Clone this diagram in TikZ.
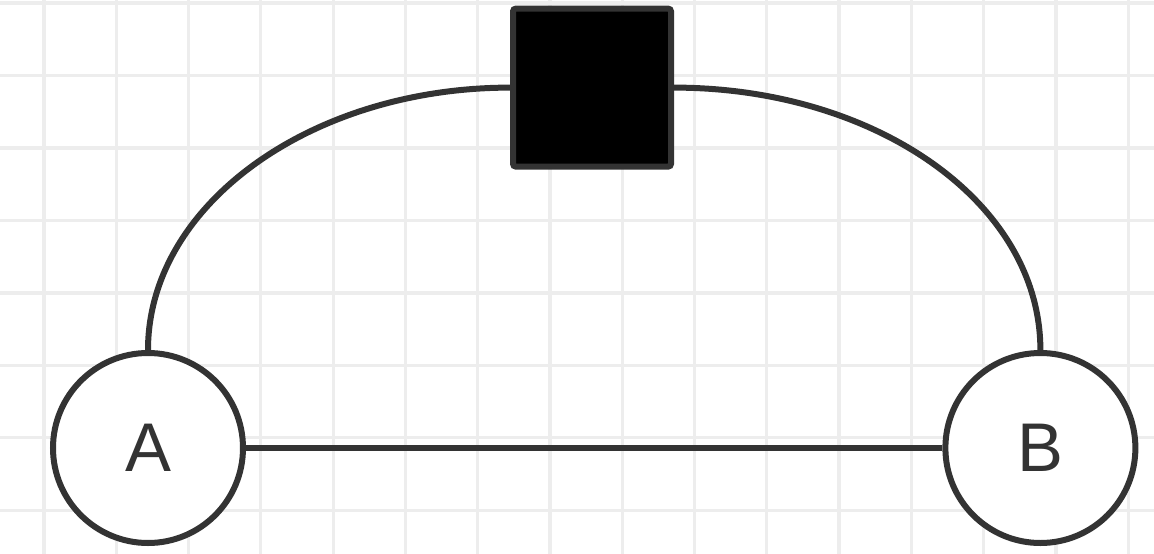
\documentclass[tikz,border=0pt]{standalone}
\usepackage{fontspec}
\setmainfont{Liberation Sans}
\usetikzlibrary{positioning}

\begin{document}
\begin{tikzpicture}[>=latex]

    %
    % Styles for places, transition and arcs
    %
    \definecolor{inkGray}{HTML}{333333}
    \definecolor{gridGray}{HTML}{EDEDED}
    \tikzstyle{gridLine} = [gridGray, line width=0.08cm];
    \tikzstyle{place} = [draw=inkGray, circle, line width=0.15cm, fill=white,
                          minimum size=4.75cm, inner sep=0pt, text=inkGray,
                          font={\fontsize{49}{58}\selectfont}];
    \tikzstyle{transition} = [draw=inkGray, rectangle, rounded corners=2pt, line width=0.15cm,
                          fill=black, minimum size=3.95cm, inner sep=0pt];
    \tikzstyle{arcLine} = [inkGray, line width=0.15cm];

    %
    % Background grid
    %
    \fill[white] (0,0) rectangle (28.85,-13.85);
    \useasboundingbox (0,0) rectangle (28.85,-13.85);
    \foreach \i in {0,...,15}
      \draw[gridLine] (1.1+1.807*\i,0) -- (1.1+1.807*\i,-13.85);
    \foreach \j in {0,...,7}
      \draw[gridLine] (0,-0.075-1.812*\j) -- (28.85,-0.075-1.812*\j);

    %
    % Position places and transition
    %
    \node[transition, name=fire] at (14.8,-2.19) {};
    \node[place, name=placeA] at (3.7,-11.2) {A};
    \node[place, name=placeB] at (26.01,-11.2) {B};

    %
    % Connect them via arcs
    %
    \draw[arcLine] (placeA.north) .. controls +(0,3.63) and +(-4.97,0) .. (fire.west);
    \draw[arcLine] (fire.east) .. controls +(5.05,0) and +(0,3.68) .. (placeB.north);
    \draw[arcLine] (placeA) -- (placeB);
  \end{tikzpicture}
\end{document}
